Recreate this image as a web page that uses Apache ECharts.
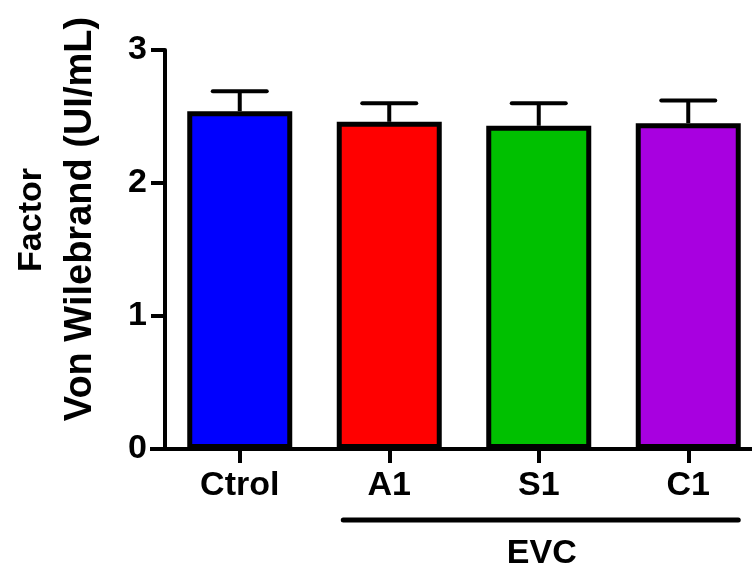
<!DOCTYPE html>
<html>
<head>
<meta charset="utf-8">
<script src="https://cdn.jsdelivr.net/npm/echarts@6/dist/echarts.min.js"></script>
<style>html,body{margin:0;padding:0;background:#fff}#c{width:752px;height:571px}</style>
</head>
<body>
<div id="c"></div>
<script>
var categories = ['Ctrol', 'A1', 'S1', 'C1'];
var means = [2.54, 2.46, 2.43, 2.45];
var upper = [2.69, 2.60, 2.60, 2.62];
var colors = ['#0000FF', '#FF0000', '#00C000', '#A800E0'];
var yTicks = [0, 1, 2, 3];
var groupName = 'EVC';
var groupRange = [1, 3];
var yTitle1 = 'Factor';
var yTitle2 = 'Von Wilebrand (UI/mL)';

var FONT = '"Liberation Sans", Arial, sans-serif';
var chart = echarts.init(document.getElementById('c'));

var barData = means.map(function (v, i) {
  return { value: v, itemStyle: { color: colors[i] } };
});
var errData = means.map(function (v, i) { return [i, v, upper[i]]; });

chart.setOption({
  animation: false,
  backgroundColor: '#fff',
  grid: { left: 165, right: -11, top: 50, bottom: 122, containLabel: false, outerBoundsMode: 'none' },
  xAxis: {
    type: 'category',
    data: categories,
    axisLine: { lineStyle: { color: '#000', width: 4 } },
    axisTick: { show: true, alignWithLabel: true, length: 14, lineStyle: { color: '#000', width: 4 } },
    axisLabel: { color: '#000', fontFamily: FONT, fontWeight: 'bold', fontSize: 34, margin: 20 },
    splitLine: { show: false }
  },
  yAxis: {
    type: 'value',
    min: yTicks[0],
    max: yTicks[yTicks.length - 1],
    interval: 1,
    axisLine: { show: true, lineStyle: { color: '#000', width: 4 } },
    axisTick: { show: true, length: 14, lineStyle: { color: '#000', width: 4 } },
    axisLabel: { color: '#000', fontFamily: FONT, fontWeight: 'bold', fontSize: 34, margin: 18 },
    splitLine: { show: false }
  },
  graphic: [
    { type: 'line', shape: { x1: 150, y1: 449, x2: 167, y2: 449 }, style: { stroke: '#000', lineWidth: 4 } },
    { type: 'text', x: 32, y: 220, rotation: Math.PI / 2,
      style: { text: yTitle1, font: 'bold 34px ' + FONT, fill: '#000', textAlign: 'center', textVerticalAlign: 'middle' } },
    { type: 'text', x: 81, y: 219, rotation: Math.PI / 2,
      style: { text: yTitle2, font: 'bold 38px ' + FONT, fill: '#000', textAlign: 'center', textVerticalAlign: 'middle' } }
  ],
  series: [
    {
      type: 'bar',
      data: barData,
      barWidth: 105,
      itemStyle: { borderColor: '#000', borderWidth: 5 },
      z: 2
    },
    {
      type: 'custom',
      data: errData,
      z: 3,
      renderItem: function (params, api) {
        var x = api.value(0);
        var top = api.coord([x, api.value(1)]);
        var hi = api.coord([x, api.value(2)]);
        var half = 27;
        return {
          type: 'group',
          children: [
            { type: 'line', shape: { x1: top[0], y1: top[1], x2: hi[0], y2: hi[1] }, style: { stroke: '#000', lineWidth: 4 } },
            { type: 'line', shape: { x1: hi[0] - half, y1: hi[1], x2: hi[0] + half, y2: hi[1] }, style: { stroke: '#000', lineWidth: 4, lineCap: 'round' } }
          ]
        };
      }
    },
    {
      type: 'custom',
      data: [[groupRange[0], groupRange[1]]],
      z: 3,
      clip: false,
      renderItem: function (params, api) {
        var a = api.coord([api.value(0), 0]);
        var b = api.coord([api.value(1), 0]);
        var y = a[1] + 71;
        return {
          type: 'group',
          children: [
            { type: 'line', shape: { x1: a[0] - 46, y1: y, x2: b[0] + 50, y2: y }, style: { stroke: '#000', lineWidth: 5, lineCap: 'round' } },
            { type: 'text', x: (a[0] + b[0]) / 2 + 3, y: y + 34,
              style: { text: groupName, font: 'bold 34px ' + FONT, fill: '#000', textAlign: 'center', textVerticalAlign: 'middle' } }
          ]
        };
      }
    }
  ]
});
</script>
</body>
</html>
